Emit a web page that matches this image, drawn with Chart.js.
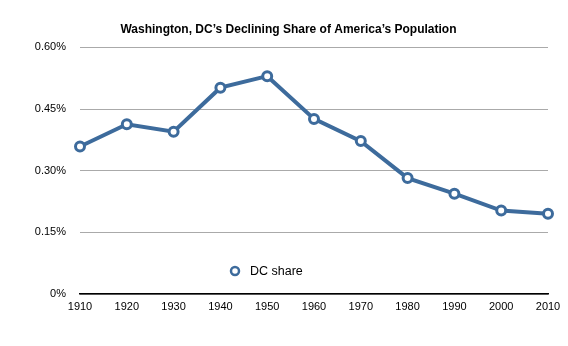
<!DOCTYPE html>
<html>
<head>
<meta charset="utf-8">
<script src="https://cdn.jsdelivr.net/npm/chart.js@4/dist/chart.umd.min.js"></script>
<style>
  html, body { margin: 0; padding: 0; background: #fff; }
  #wrap { width: 568px; height: 346px; position: relative; }
</style>
</head>
<body>
<div id="wrap"><canvas id="chart"></canvas></div>
<script>
const years = ['1910', '1920', '1930', '1940', '1950', '1960', '1970', '1980', '1990', '2000', '2010'];
const dcShare = [0.359, 0.413, 0.395, 0.502, 0.530, 0.426, 0.372, 0.282, 0.244, 0.203, 0.195];
const yTicks = [0, 0.15, 0.30, 0.45, 0.60];

const BLUE = '#3d6b9c';
const FONT = '"Liberation Sans", Arial, Helvetica, sans-serif';

// legend sits inside the plot, below the line
const insideLegend = {
    id: 'insideLegend',
    afterDraw(chart) {
        const ctx = chart.ctx;
        const ds = chart.data.datasets[0];
        const x = 235, y = 271;
        ctx.save();
        ctx.beginPath();
        ctx.arc(x, y, 4, 0, Math.PI * 2);
        ctx.fillStyle = '#fff';
        ctx.fill();
        ctx.lineWidth = 2.5;
        ctx.strokeStyle = BLUE;
        ctx.stroke();
        ctx.fillStyle = '#000';
        ctx.font = '12.5px ' + FONT;
        ctx.textBaseline = 'middle';
        ctx.fillText(ds.label, 250, y + 1);
        ctx.restore();
    }
};

new Chart(document.getElementById('chart'), {
    type: 'line',
    data: {
        labels: years,
        datasets: [{
            label: 'DC share',
            data: dcShare,
            borderColor: BLUE,
            borderWidth: 4,
            pointBackgroundColor: '#fff',
            pointBorderColor: BLUE,
            pointBorderWidth: 3,
            pointRadius: 4.5,
            tension: 0,
            clip: false
        }]
    },
    options: {
        responsive: true,
        maintainAspectRatio: false,
        animation: false,
        layout: { padding: { left: 29, right: 20, top: 0, bottom: 0 } },
        plugins: {
            legend: { display: false },
            tooltip: { enabled: false },
            title: {
                display: true,
                text: 'Washington, DC\u2019s Declining Share of America\u2019s Population',
                color: '#000',
                font: { family: FONT, size: 12, weight: 'bold' },
                padding: { top: 22, bottom: 11 }
            }
        },
        scales: {
            x: {
                offset: false,
                grid: { display: false, drawTicks: false, tickLength: 0 },
                border: { display: true, color: '#000', width: 1.5 },
                ticks: { color: '#000', font: { family: FONT, size: 11 }, padding: 6, maxRotation: 0 },
                afterFit: (axis) => { axis.height = 52; }
            },
            y: {
                min: 0,
                max: 0.6,
                grid: { color: '#aaaaaa', lineWidth: 1, drawTicks: false },
                border: { display: false },
                afterBuildTicks: (axis) => { axis.ticks = yTicks.map(v => ({ value: v })); },
                ticks: {
                    color: '#000',
                    font: { family: FONT, size: 11 },
                    padding: 14,
                    callback: (v) => v === 0 ? '0%' : v.toFixed(2) + '%'
                },
                afterFit: (axis) => { axis.width = 51; }
            }
        }
    },
    plugins: [insideLegend]
});
</script>
</body>
</html>
